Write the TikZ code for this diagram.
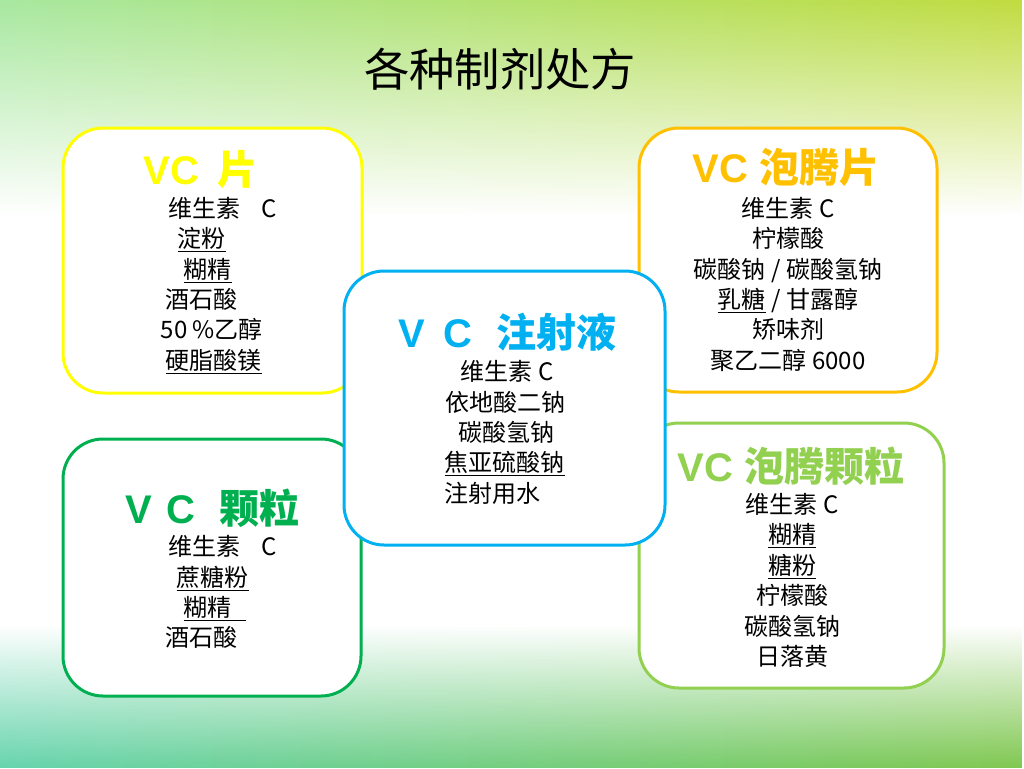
\documentclass[tikz,border=0pt]{standalone}
\usepackage{fontspec}
\setmainfont{Liberation Sans}
\newfontfamily\cjk{Noto Sans CJK SC}
\usepackage{xcolor}
\usetikzlibrary{fadings}
\definecolor{CYellow}{HTML}{FFFF00}
\definecolor{COrange}{HTML}{FFC000}
\definecolor{CCyan}{HTML}{00B0F0}
\definecolor{CGreen}{HTML}{00B050}
\definecolor{CLime}{HTML}{92D050}
\definecolor{TopLeft}{HTML}{A8E8A0}
\definecolor{TopMid}{HTML}{74D664}
\definecolor{TopRight}{HTML}{C0DC40}
\definecolor{BotLeft}{HTML}{66D4AE}
\definecolor{BotMid}{HTML}{50BEAA}
\definecolor{BotRight}{HTML}{80C850}
\tikzfading[name=fadedown,top color=transparent!0,middle color=transparent!25,bottom color=transparent!100]
\tikzfading[name=fadeup,top color=transparent!100,middle color=transparent!30,bottom color=transparent!0]

\begin{document}
\begin{tikzpicture}[x=0.75pt,y=-0.75pt,
  card/.style={draw=#1,line width=2.25pt,fill=white,rounded corners=30pt,inner sep=0pt},
  head/.style={font=\fontsize{30}{32}\selectfont\bfseries,text=#1},
  item/.style={anchor=base west,font=\cjk\fontsize{18}{20}\selectfont},
  mid/.style={anchor=base,font=\cjk\fontsize{18}{20}\selectfont}
]
\useasboundingbox (0,0) rectangle (1024,768);
% background
\fill[white] (0,0) rectangle (1024,768);
\shade[left color=TopLeft,middle color=TopMid,right color=TopRight,path fading=fadedown] (0,0) rectangle (1024,215);
\shade[left color=BotLeft,middle color=BotMid,right color=BotRight,path fading=fadeup] (0,625) rectangle (1024,768);
\node[anchor=base,font=\cjk\fontsize{34}{36}\selectfont] (title) at (500,86) {各种制剂处方};
% cards
\node[card=CYellow,minimum width=224.25pt,minimum height=198.75pt] (tab) at (212.5,260.5) {};
\node[card=COrange,minimum width=223.5pt,minimum height=198pt] (efftab) at (788,260) {};
\node[card=CGreen,minimum width=223.5pt,minimum height=192.75pt] (gran) at (212,567.5) {};
\node[card=CLime,minimum width=228.75pt,minimum height=198.75pt] (effgran) at (791.5,555.5) {};
\node[card=CCyan,minimum width=240.75pt,minimum height=205.5pt] (inj) at (504.5,408) {};
% VC tablet
\node[head=CYellow,anchor=base west] (tabhead) at (139,184) {VC\hspace{0.45em}{\cjk 片}};
\node[item] (tab1) at (164,217) {维生素\hspace{0.85em}C};
\node[item] (tab2) at (173,247.5) {\underline{淀粉}};
\node[item] (tab3) at (179,278) {\underline{糊精}};
\node[item] (tab4) at (161,308) {酒石酸};
\node[item] (tab5) at (156,338) {50 \%乙醇};
\node[item] (tab6) at (161,369) {\underline{硬脂酸镁}};
% VC effervescent tablet
\node[head=COrange,anchor=base] (efftabhead) at (786,182) {VC {\cjk 泡腾片}};
\node[mid] (efftab1) at (788,217) {维生素 C};
\node[mid] (efftab2) at (788,247.5) {柠檬酸};
\node[mid] (efftab3) at (788,278) {碳酸钠 / 碳酸氢钠};
\node[mid] (efftab4) at (788,308) {\underline{乳糖} / 甘露醇};
\node[mid] (efftab5) at (788,338) {矫味剂};
\node[mid] (efftab6) at (788,369) {聚乙二醇 6000};
% VC injection
\node[head=CCyan,anchor=base west] (injhead) at (394,347) {V\hspace{0.45em}C\hspace{0.6em}{\cjk 注射液}};
\node[item] (inj1) at (456,380) {维生素 C};
\node[item] (inj2) at (441,411) {依地酸二钠};
\node[item] (inj3) at (454,441) {碳酸氢钠};
\node[item] (inj4) at (440,471) {\underline{焦亚硫酸钠}};
\node[item] (inj5) at (440,502) {注射用水};
% VC granules
\node[head=CGreen,anchor=base west] (granhead) at (121,523) {V\hspace{0.35em}C\hspace{0.6em}{\cjk 颗粒}};
\node[item] (gran1) at (164,555) {维生素\hspace{0.85em}C};
\node[item] (gran2) at (172,586) {\underline{蔗糖粉}};
\node[item] (gran3) at (179,616) {\underline{糊精\hspace{0.6em}}};
\node[item] (gran4) at (161,646) {酒石酸};
% VC effervescent granules
\node[head=CLime,anchor=base] (effgranhead) at (791,481) {VC {\cjk 泡腾颗粒}};
\node[mid] (effgran1) at (792,513) {维生素 C};
\node[mid] (effgran2) at (792,543.5) {\underline{糊精}};
\node[mid] (effgran3) at (792,574) {\underline{糖粉}};
\node[mid] (effgran4) at (792,604.5) {柠檬酸};
\node[mid] (effgran5) at (792,635) {碳酸氢钠};
\node[mid] (effgran6) at (792,665.5) {日落黄};
\end{tikzpicture}
\end{document}
